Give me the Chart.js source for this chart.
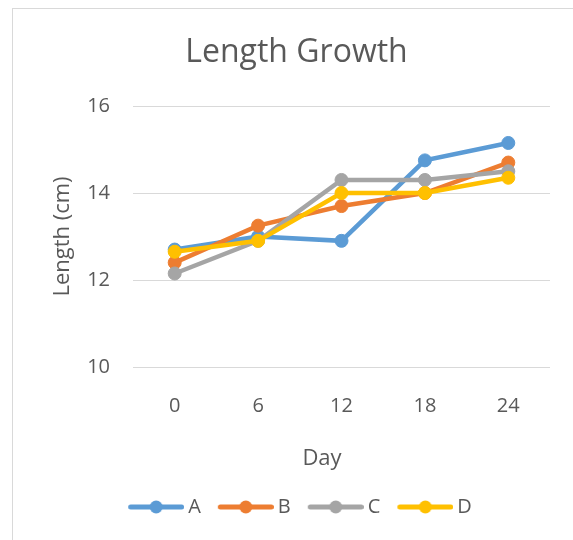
<!DOCTYPE html>
<html lang="en">
<head>
  <meta charset="UTF-8">
  <title>Length Growth</title>
  <script src="https://cdn.jsdelivr.net/npm/chart.js@4.4.0/dist/chart.umd.min.js"></script>
  <style>
    html, body {
      margin: 0;
      padding: 0;
      background: #fff;
      overflow: hidden;
    }
    #chart-box {
      position: absolute;
      left: 12px;
      top: 8px;
      width: 580px;
      height: 560px;
      border: 1px solid #d9d9d9;
    }
    #lengthChart {
      display: block;
    }
  </style>
</head>
<body>
  <div id="chart-box">
    <canvas id="lengthChart" width="567" height="531"></canvas>
  </div>

  <script>
    // values
    const days = ['0', '6', '12', '18', '24'];
    const seriesA = [12.7, 13.0, 12.9, 14.75, 15.15];
    const seriesB = [12.4, 13.25, 13.7, 14.0, 14.7];
    const seriesC = [12.15, 12.9, 14.3, 14.3, 14.5];
    const seriesD = [12.65, 12.9, 14.0, 14.0, 14.35];
    const seriesNames = ['A', 'B', 'C', 'D'];
    const yTicks = [10, 12, 14, 16];

    const colors = ['#5b9bd5', '#ed7d31', '#a5a5a5', '#ffc000'];
    const textColor = '#595959';
    const fontFamily = '"Open Sans", "Noto Sans", sans-serif';

    // legend icon: a short line with a marker in the middle, like the spreadsheet legend
    function legendIcon(color) {
      const c = document.createElement('canvas');
      c.width = 69;
      c.height = 16;
      const g = c.getContext('2d');
      g.strokeStyle = color;
      g.lineWidth = 5;
      g.lineCap = 'round';
      g.beginPath();
      g.moveTo(15.5, 8);
      g.lineTo(66.5, 8);
      g.stroke();
      g.fillStyle = color;
      g.beginPath();
      g.arc(41, 8, 6.5, 0, Math.PI * 2);
      g.fill();
      return c;
    }
    const icons = colors.map(legendIcon);

    // x axis title is centred a little left of the plot area in the original
    const dayTitle = {
      id: 'dayTitle',
      afterDraw(chart) {
        const ctx = chart.ctx;
        const area = chart.chartArea;
        const xs = chart.scales.x;
        ctx.save();
        ctx.font = '22px ' + fontFamily;
        ctx.fillStyle = textColor;
        ctx.textAlign = 'center';
        ctx.textBaseline = 'middle';
        ctx.fillText('Day', (area.left + area.right) / 2 - 19.5, xs.bottom - 28);
        ctx.restore();
      }
    };

    const allSeries = [seriesA, seriesB, seriesC, seriesD];
    const datasets = allSeries.map((values, i) => ({
      label: seriesNames[i],
      data: values,
      borderColor: colors[i],
      backgroundColor: colors[i],
      borderWidth: 4.5,
      pointRadius: 6.5,
      pointBorderWidth: 1,
      pointBackgroundColor: colors[i],
      pointBorderColor: colors[i],
      tension: 0,
      order: allSeries.length - i   // later series drawn on top
    }));

    const ctx = document.getElementById('lengthChart').getContext('2d');
    const chart = new Chart(ctx, {
      type: 'line',
      data: {
        labels: days,
        datasets: datasets
      },
      options: {
        responsive: false,
        animation: false,
        layout: {
          padding: { left: 0, right: 0, top: 0, bottom: 13 }
        },
        plugins: {
          title: {
            display: true,
            text: 'Length Growth',
            color: textColor,
            font: { family: fontFamily, size: 32, weight: 'normal' },
            padding: { top: 25, bottom: 33.6 }
          },
          legend: {
            position: 'bottom',
            labels: {
              color: textColor,
              font: { family: fontFamily, size: 20 },
              usePointStyle: true,
              pointStyleWidth: 57,
              padding: 10,
              sort: (a, b) => a.datasetIndex - b.datasetIndex,
              generateLabels(chart) {
                const items = Chart.defaults.plugins.legend.labels.generateLabels(chart);
                items.forEach(item => { item.pointStyle = icons[item.datasetIndex]; });
                return items;
              }
            }
          },
          tooltip: { enabled: false }
        },
        scales: {
          x: {
            type: 'category',
            offset: true,
            grid: { display: false },
            border: { display: false },
            ticks: {
              color: textColor,
              font: { family: fontFamily, size: 20 },
              padding: 19,
              maxRotation: 0
            },
            afterFit(scale) { scale.height = 120; }
          },
          y: {
            min: 10,
            max: 16,
            afterBuildTicks(scale) {
              scale.ticks = yTicks.map(v => ({ value: v }));
            },
            grid: { color: '#d9d9d9', lineWidth: 1, drawTicks: false },
            border: { display: false },
            ticks: {
              color: textColor,
              font: { family: fontFamily, size: 20 },
              padding: 23
            },
            title: {
              display: true,
              text: 'Length (cm)',
              color: textColor,
              font: { family: fontFamily, size: 22 },
              padding: { top: 36.8, bottom: 0 }
            },
            afterFit(scale) { scale.width = 120; }
          },
          // empty right axis only keeps the plot clear of the right edge
          yRight: {
            position: 'right',
            display: true,
            grid: { display: false },
            border: { display: false },
            ticks: { display: false },
            afterFit(scale) { scale.width = 30; }
          }
        }
      },
      plugins: [dayTitle]
    });
  </script>
</body>
</html>
